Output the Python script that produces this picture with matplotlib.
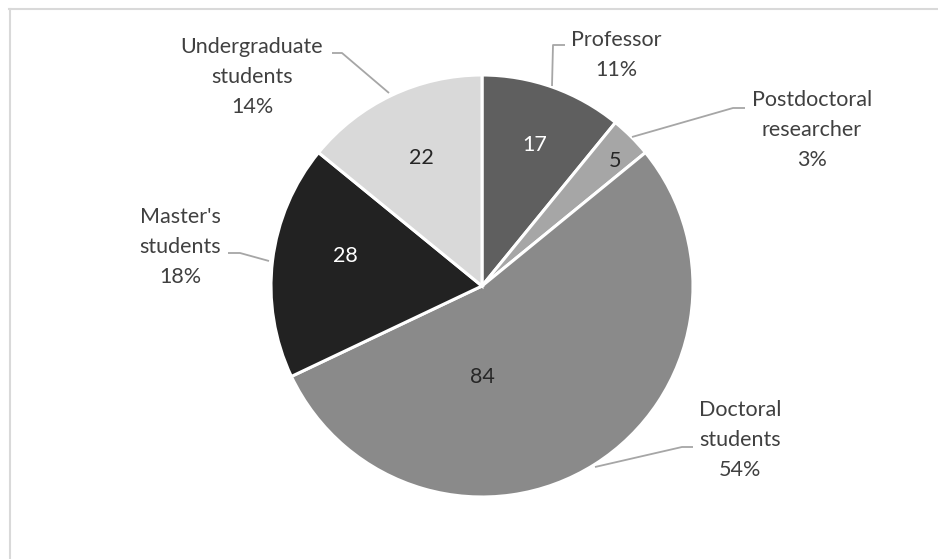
import matplotlib.pyplot as plt
from matplotlib.lines import Line2D

# data
categories = ["Professor", "Postdoctoral\nresearcher", "Doctoral\nstudents",
              "Master's\nstudents", "Undergraduate\nstudents"]
counts = [17, 5, 84, 28, 22]
colors = ["#5f5f5f", "#a6a6a6", "#8a8a8a", "#222222", "#d9d9d9"]
value_colors = ["white", "#262626", "#262626", "white", "#262626"]

# layout in pixel coordinates (y down)
center = (482, 286)
radius = 211
value_pos = [(535, 145), (615, 161), (482, 377), (345, 256), (421, 158)]
label_pos = [(616, 55), (812, 130), (740, 440), (180, 247), (252, 77)]
leaders = [
    [(565, 45), (553, 45), (552, 86)],
    [(745, 108), (733, 108), (632, 137)],
    [(693, 447), (682, 447), (595, 467)],
    [(228, 253), (240, 253), (269, 261)],
    [(332, 53), (342, 53), (389, 93)],
]

plt.rcParams['font.family'] = ['Lato', 'DejaVu Sans']

fig = plt.figure(figsize=(9.38, 5.59), dpi=100)
ax = fig.add_axes([0, 0, 1, 1])

# y axis is flipped, so counterclock in data = clockwise on screen
ax.pie(counts, colors=colors, center=center, radius=radius,
       startangle=-90, counterclock=True,
       wedgeprops=dict(edgecolor="white", linewidth=2.2))

ax.set_xlim(0, 938)
ax.set_ylim(559, 0)
ax.set_aspect('auto')
ax.axis('off')

total = sum(counts)
for i, c in enumerate(counts):
    ax.text(*value_pos[i], str(c), ha="center", va="center",
            fontsize=15.5, color=value_colors[i])
    pct = round(c / total * 100)
    ax.text(*label_pos[i], f"{categories[i]}\n{pct}%", ha="center", va="center",
            fontsize=15.5, color="#404040", linespacing=1.6)
    xs, ys = zip(*leaders[i])
    ax.plot(xs, ys, color="#a6a6a6", lw=1.3, solid_capstyle="butt")

# chart frame (top and left edges only visible)
fig.add_artist(Line2D([9 / 938, 1], [1 - 9 / 559, 1 - 9 / 559],
                      color="#d9d9d9", lw=1.5, transform=fig.transFigure))
fig.add_artist(Line2D([10 / 938, 10 / 938], [0, 1 - 9 / 559],
                      color="#d9d9d9", lw=1.5, transform=fig.transFigure))

fig.savefig("out.png", dpi=100)
